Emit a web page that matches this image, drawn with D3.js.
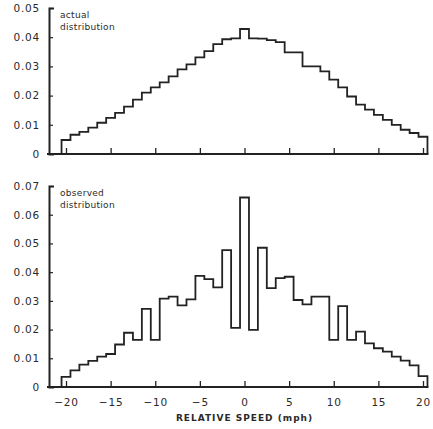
<!DOCTYPE html>
<html><head><meta charset="utf-8">
<script src="https://cdn.jsdelivr.net/npm/d3@7"></script>
<style>
body{margin:0;background:#fff;}
svg text{font-family:"DejaVu Sans",sans-serif;fill:#2a2a2a;}
</style></head>
<body><svg id="c" width="433" height="429"></svg>
<script>
// speed bins (mph), centered on integers
const speeds = d3.range(-20, 21);
const actual = [
  0.0048,0.0066,0.0076,0.0090,0.0107,0.0124,0.0141,0.0162,0.0186,0.0210,
  0.0228,0.0245,0.0266,0.0290,0.0307,0.0331,0.0352,0.0376,0.0393,0.0396,
  0.0428,
  0.0396,0.0395,0.0390,0.0383,0.0348,0.0348,0.0300,0.0300,0.0283,0.0255,
  0.0228,0.0197,0.0169,0.0152,0.0134,0.0117,0.0100,0.0083,0.0072,0.0059];
const observed = [
  0.0035,0.0058,0.0078,0.0091,0.0106,0.0115,0.0148,0.0189,0.0164,0.0272,
  0.0164,0.0308,0.0315,0.0284,0.0305,0.0387,0.0376,0.0347,0.0477,0.0206,
  0.0660,
  0.0199,0.0485,0.0344,0.0379,0.0384,0.0303,0.0288,0.0315,0.0315,0.0164,
  0.0282,0.0164,0.0193,0.0152,0.0135,0.0123,0.0106,0.0092,0.0075,0.0038];
const xTicks = [-20,-15,-10,-5,0,5,10,15,20];
const yTicksTop = [0,0.01,0.02,0.03,0.04,0.05];
const yTicksBot = [0,0.01,0.02,0.03,0.04,0.05,0.06,0.07];
const labelsTop = ["actual","distribution"];
const labelsBot = ["observed","distribution"];
const xTitle = "RELATIVE SPEED (mph)";

const svg = d3.select("#c");
const ink = "#222";
const x = d3.scaleLinear().domain([-20,20]).range([66,423]);
const yTop = d3.scaleLinear().domain([0,0.05]).range([154,8]);
const yBot = d3.scaleLinear().domain([0,0.07]).range([387,186]);
const fmt = v => v===0 ? "0" : d3.format(".2f")(v);

function panel(y, vals, yTicks, labels, showX){
  const g = svg.append("g");
  // y axis
  const ya = d3.axisLeft(y).tickValues(yTicks).tickFormat(fmt)
      .tickSizeInner(-4).tickSizeOuter(-5).tickPadding(9);
  const yg = g.append("g").attr("transform","translate(49,0)").call(ya);
  yg.select(".domain").attr("stroke",ink).attr("stroke-width",2);
  yg.selectAll(".tick line").attr("stroke",ink).attr("stroke-width",1.2);
  yg.selectAll(".tick text").attr("font-size",10.5).attr("letter-spacing","0.8px").attr("fill","#333");
  yg.selectAll(".tick").filter(d=>d===0).select("line").remove();
  // x axis baseline
  g.append("line").attr("x1",47).attr("x2",x(20.5)+1)
    .attr("y1",y(0)).attr("y2",y(0)).attr("stroke",ink).attr("stroke-width",2);
  const xa = d3.axisBottom(x).tickValues(xTicks)
      .tickFormat(showX ? (d=> d<0 ? "\u2212"+Math.abs(d) : String(d)) : "")
      .tickSizeInner(-6).tickSizeOuter(0).tickPadding(12);
  const xg = g.append("g").attr("transform",`translate(0,${y(0)})`).call(xa);
  xg.select(".domain").remove();
  xg.selectAll(".tick line").attr("stroke",ink).attr("stroke-width",1.3);
  xg.selectAll(".tick text").attr("font-size",10.5).attr("letter-spacing","0.8px").attr("fill","#333");
  // histogram outline
  const pts = [[x(-20.5), y(0)]];
  speeds.forEach((s,i)=>{ pts.push([x(s-0.5), y(vals[i])]); pts.push([x(s+0.5), y(vals[i])]); });
  pts.push([x(20.5), y(0)]);
  g.append("path").attr("d", d3.line()(pts)).attr("fill","none")
    .attr("stroke",ink).attr("stroke-width",1.8).attr("stroke-linejoin","miter");
  // label
  const t = g.append("text").attr("x",60).attr("y", y.range()[1]+10).attr("font-size",9)
    .attr("letter-spacing","0.3px").attr("fill","#444");
  labels.forEach((l,i)=> t.append("tspan").attr("x",60).attr("dy", i===0?0:11.5).text(l));
}
panel(yTop, actual, yTicksTop, labelsTop, false);
panel(yBot, observed, yTicksBot, labelsBot, true);

svg.append("text").attr("x", x(0)).attr("y", 421).attr("text-anchor","middle")
  .attr("font-size",9).attr("font-weight","bold").attr("letter-spacing","1px").text(xTitle);
</script></body></html>
